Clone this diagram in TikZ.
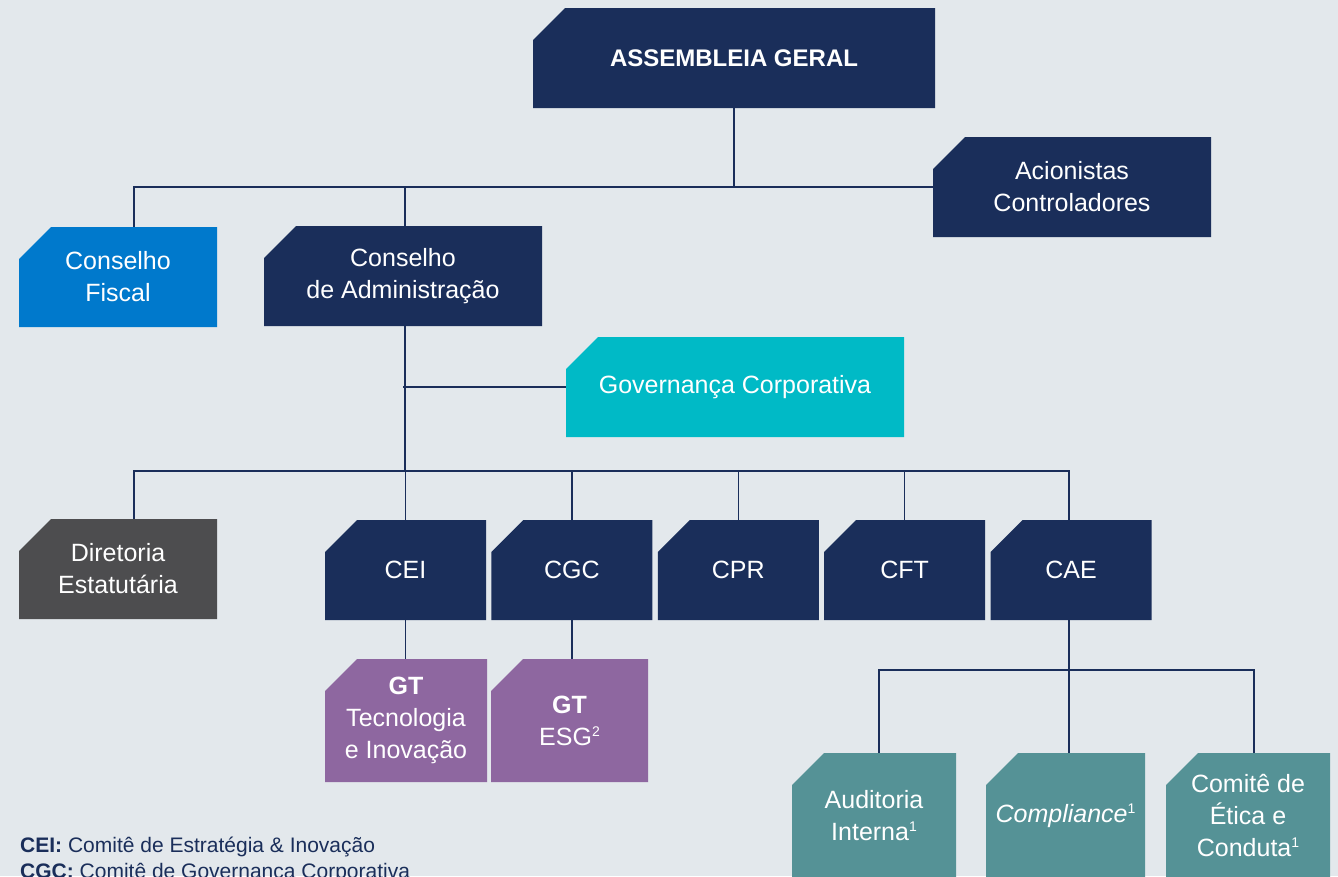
\documentclass[tikz,border=0pt]{standalone}
\usepackage{fontspec}
\setmainfont{Liberation Sans}
\usepackage{tikz}
\usetikzlibrary{positioning, calc}
\definecolor{bgcol}{HTML}{E3E8EC}
\definecolor{navy}{HTML}{1A2E5A}
\definecolor{fiscal}{HTML}{0079CC}
\definecolor{govcyan}{HTML}{00BAC6}
\definecolor{dirgray}{HTML}{4D4D4F}
\definecolor{gtpurple}{HTML}{8E67A0}
\definecolor{teal}{HTML}{559296}
\newcommand{\fnote}[1]{\raisebox{9pt}{\fontsize{14}{14}\selectfont #1}}
\tikzset{org box/.style={minimum height=100pt, inner sep=0pt, align=center, text=white,
    font=\fontsize{25}{32}\selectfont,
    path picture={\fill[#1] ([yshift=-32pt]path picture bounding box.north west)
      -- ([xshift=32pt]path picture bounding box.north west)
      -- (path picture bounding box.north east) -- (path picture bounding box.south east)
      -- (path picture bounding box.south west) -- cycle;}},
  link/.style={draw=navy, line width=1.5pt},
  legend/.style={text=navy, font=\fontsize{21}{26}\selectfont, inner sep=0pt, anchor=base west},}

\begin{document}
\begin{tikzpicture}[x=1pt, y=-1pt]
			\fill[bgcol] (0,0) rectangle (1338,876);
			\useasboundingbox (0,0) rectangle (1338,876);
			% Top
			\node[org box=navy, minimum width=402pt, font=\fontsize{24}{32}\selectfont] (ag) at (734,58) {\textbf{ASSEMBLEIA GERAL}};
			\node[org box=navy, minimum width=278pt] (acion) at (1072,187) {Acionistas\\Controladores};
			\node[org box=fiscal, minimum width=198pt] (cf) at (118,277) {Conselho\\Fiscal};
			\node[org box=navy, minimum width=278pt] (ca) at (403,276) {Conselho\\de Administração};
			\node[org box=govcyan, minimum width=338pt] (gov) at (735,387) {Governança Corporativa};
			% Committees
			\node[org box=dirgray, minimum width=198pt] (dir) at (118,569) {Diretoria\\Estatutária};
			\node[org box=navy, minimum width=161pt] (cei) at (405.5,570) {CEI};
			\node[org box=navy, minimum width=161pt, right=5pt of cei] (cgc) {CGC};
			\node[org box=navy, minimum width=161pt, right=5pt of cgc] (cpr) {CPR};
			\node[org box=navy, minimum width=161pt, right=5pt of cpr] (cft) {CFT};
			\node[org box=navy, minimum width=161pt, right=5pt of cft] (cae) {CAE};
			% Working groups
			\node[org box=gtpurple, minimum width=162pt, minimum height=123pt] (gt1) at (406,720.5)
				{\textbf{GT}\\Tecnologia\\e Inovação};
			\node[org box=gtpurple, minimum width=157pt, minimum height=123pt] (gt2) at (569.5,720.5)
				{\textbf{GT}\\ESG\fnote{2}};
			\node[org box=teal, minimum width=164pt, minimum height=126pt] (aud) at (874,816)
				{Auditoria\\Interna\fnote{1}};
			\node[org box=teal, minimum width=159pt, minimum height=126pt] (comp) at (1065.5,816)
				{\textit{Compliance}\fnote{1}};
			\node[org box=teal, minimum width=164pt, minimum height=126pt] (etica) at (1248,816)
				{Comitê de\\Ética e\\Conduta\fnote{1}};
			% Legend
			\node[legend] (lg1) at (20,852) {\textbf{CEI:} Comitê de Estratégia \& Inovação};
			\node[legend] (lg2) at (20,878) {\textbf{CGC:} Comitê de Governança Corporativa};
			% Links
			\coordinate (bus1) at (0,188);
			\coordinate (bus2) at (0,471);
			\coordinate (bus3) at (0,670);
			\draw[link] (ag.south) -- (ag.south |- bus1);
			\draw[link] ([xshift=16pt]cf.north) |- (acion.west);
			\draw[link] ([xshift=2pt]ca.north) -- ([xshift=2pt]ca.north |- bus1);
			\draw[link] ([xshift=2pt]ca.south) -- ([xshift=2pt]ca.south |- bus2);
			\draw[link] (gov.west) -- (gov.west -| ca.south);
			\draw[link] ([xshift=16pt]dir.north) |- ([xshift=-2pt]cae.north |- bus2) -- ([xshift=-2pt]cae.north);
			\foreach \c in {cei, cgc, cpr, cft}
				\draw[link] (\c.north) -- (\c.north |- bus2);
			\draw[link] (cei.south) -- (gt1.north -| cei.south);
			\draw[link] (cgc.south) -- (gt2.north -| cgc.south);
			\draw[link] ([xshift=-2pt]cae.south) -- ([xshift=-2pt]cae.south |- bus3);
			\draw[link] ([xshift=5pt]aud.north) |- ([xshift=6pt]etica.north |- bus3) -- ([xshift=6pt]etica.north);
			\draw[link] ([xshift=-2pt]cae.south |- bus3) -- ([xshift=-2pt]cae.south |- comp.north);
\end{tikzpicture}
\end{document}
